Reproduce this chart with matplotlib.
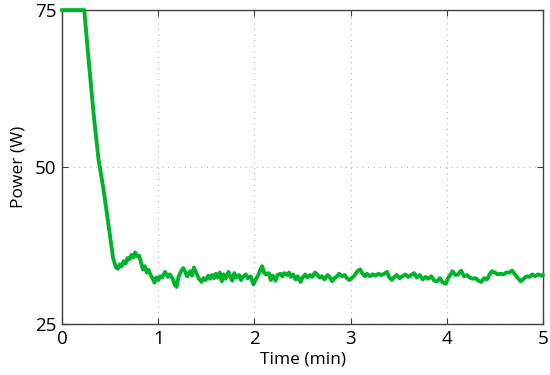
import matplotlib
matplotlib.use("Agg")
import matplotlib.pyplot as plt

# power trace (minutes, watts)
time_min = [0.00, 0.23, 0.27, 0.33, 0.38, 0.43, 0.48, 0.53, 0.56, 0.58,
            0.60, 0.62, 0.64, 0.66, 0.68, 0.70, 0.72, 0.74, 0.76, 0.78,
            0.80, 0.82, 0.84, 0.86, 0.88, 0.90, 0.92, 0.94, 0.96, 0.98,
            1.00, 1.02, 1.04, 1.07, 1.10, 1.12, 1.15, 1.17, 1.19, 1.21,
            1.24, 1.26, 1.28, 1.30, 1.33, 1.35, 1.37, 1.40, 1.42, 1.45,
            1.47, 1.49, 1.52, 1.54, 1.56, 1.58, 1.60, 1.62, 1.64, 1.66,
            1.68, 1.70, 1.73, 1.75, 1.77, 1.79, 1.81, 1.84, 1.86, 1.88,
            1.91, 1.93, 1.96, 1.99, 2.01, 2.04, 2.06, 2.08, 2.10, 2.12,
            2.15, 2.17, 2.19, 2.22, 2.24, 2.27, 2.29, 2.31, 2.34, 2.36,
            2.38, 2.40, 2.43, 2.45, 2.48, 2.50, 2.53, 2.55, 2.58, 2.60,
            2.63, 2.65, 2.68, 2.70, 2.73, 2.76, 2.78, 2.81, 2.83, 2.86,
            2.88, 2.91, 2.94, 2.96, 2.99, 3.01, 3.04, 3.07, 3.10, 3.12,
            3.15, 3.17, 3.20, 3.23, 3.26, 3.29, 3.32, 3.35, 3.38, 3.40,
            3.43, 3.45, 3.48, 3.51, 3.54, 3.57, 3.60, 3.63, 3.66, 3.69,
            3.72, 3.75, 3.78, 3.81, 3.84, 3.87, 3.90, 3.93, 3.96, 3.99,
            4.01, 4.04, 4.06, 4.09, 4.12, 4.15, 4.18, 4.21, 4.24, 4.27,
            4.30, 4.33, 4.36, 4.39, 4.42, 4.45, 4.47, 4.50, 4.53, 4.56,
            4.59, 4.62, 4.65, 4.68, 4.71, 4.74, 4.77, 4.80, 4.83, 4.86,
            4.89, 4.92, 4.95, 4.98, 5.00]
power_w = [75.0, 75.0, 68.0, 58.0, 51.0, 46.5, 41.0, 35.5, 34.0, 33.8,
           34.5, 34.2, 35.0, 34.6, 35.5, 35.3, 36.0, 35.6, 36.4, 35.8,
           35.9, 34.8, 33.7, 34.2, 33.2, 33.6, 32.8, 32.3, 31.6, 32.4,
           32.0, 32.6, 32.4, 33.3, 32.5, 32.9, 32.2, 31.3, 30.9, 32.5,
           33.5, 33.9, 33.3, 32.6, 33.4, 32.7, 34.0, 33.0, 32.3, 31.7,
           32.3, 32.0, 32.7, 32.2, 32.8, 32.3, 33.0, 32.4, 33.2, 31.8,
           32.9, 32.2, 33.3, 32.5, 31.9, 33.1, 32.4, 32.8, 32.0, 32.5,
           32.9, 32.3, 32.6, 31.3, 32.0, 32.8, 33.6, 34.2, 33.2, 32.9,
           33.1, 32.0, 32.7, 31.9, 32.8, 33.0, 32.6, 33.1, 32.8, 33.2,
           32.5, 32.9, 32.1, 32.6, 31.7, 32.4, 32.9, 32.4, 32.8, 32.5,
           33.2, 32.9, 32.4, 32.6, 32.1, 32.8, 32.5, 31.8, 32.3, 32.6,
           33.0, 32.6, 32.8, 32.3, 32.0, 32.3, 32.7, 33.4, 33.7, 33.1,
           32.6, 33.0, 32.6, 32.9, 32.7, 33.0, 32.8, 33.0, 33.3, 32.5,
           32.0, 32.4, 32.8, 32.3, 32.6, 32.9, 32.5, 32.8, 33.1, 32.4,
           32.8, 32.1, 32.5, 32.2, 32.6, 31.9, 31.8, 32.3, 31.6, 31.4,
           32.2, 32.9, 33.4, 32.8, 32.9, 33.5, 32.6, 32.8, 32.4, 32.2,
           32.3, 31.9, 31.7, 32.3, 32.1, 33.0, 33.4, 33.2, 32.9, 33.0,
           32.9, 33.2, 33.2, 33.5, 32.9, 32.3, 31.8, 32.2, 32.6, 32.5,
           32.9, 32.6, 32.9, 32.7, 32.8]

x_ticks = [0, 1, 2, 3, 4, 5]
y_ticks = [25, 50, 75]

plt.rcParams['font.family'] = ['Open Sans', 'DejaVu Sans']

fig = plt.figure(figsize=(5.5, 3.75), dpi=100)
ax = fig.add_axes([0.113, 0.136, 0.874, 0.837])

ax.plot(time_min, power_w, color='#00b32c', linewidth=2.8,
        solid_joinstyle='round', clip_on=False, zorder=3)

ax.set_xlim(0, 5)
ax.set_ylim(25, 75)
ax.set_xticks(x_ticks)
ax.set_yticks(y_ticks)
ax.grid(True, linestyle=(0, (1, 4)), color='#b0b0b0', linewidth=0.8)
ax.tick_params(direction='in', length=4, top=True, right=True, labelsize=13.5,
               color='#404040', pad=4)
for s in ax.spines.values():
    s.set_color('#404040')
    s.set_linewidth(1.0)

ax.set_xlabel("Time (min)", fontsize=12.5, labelpad=3)
ax.set_ylabel("Power (W)", fontsize=12.5, labelpad=6)

fig.savefig("out.png", dpi=100)
